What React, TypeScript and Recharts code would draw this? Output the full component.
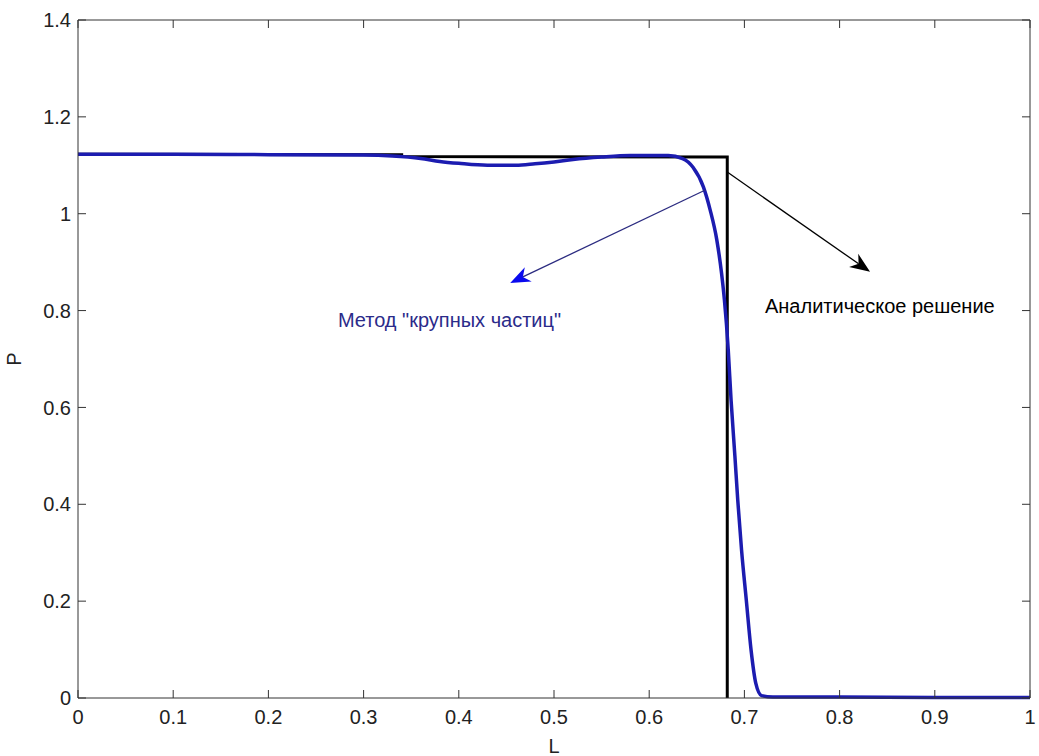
import React from 'react';
import { LineChart, Line, XAxis, YAxis, ReferenceLine, ReferenceDot } from 'recharts';

// particle method (blue) vs analytic solution (black)
const particleL = [0, 0.1, 0.2, 0.3, 0.33, 0.36, 0.38, 0.4, 0.43, 0.46, 0.48, 0.5, 0.52, 0.55, 0.58, 0.62, 0.635, 0.646, 0.657, 0.664, 0.671, 0.676, 0.679, 0.683, 0.686, 0.69, 0.693, 0.697, 0.702, 0.707, 0.712, 0.718, 0.73, 0.8, 0.9, 1.0];
const particleP = [1.123, 1.123, 1.122, 1.121, 1.119, 1.114, 1.108, 1.104, 1.1, 1.1, 1.103, 1.107, 1.112, 1.117, 1.12, 1.12, 1.114, 1.096, 1.055, 1.008, 0.946, 0.877, 0.822, 0.72, 0.615, 0.5, 0.409, 0.306, 0.202, 0.099, 0.03, 0.005, 0.002, 0.002, 0.001, 0.001];

const analyticL = [0, 0.34, 0.34, 0.682, 0.682];
const analyticP = [1.123, 1.122, 1.118, 1.117, 0];

const xTicks = [0, 0.1, 0.2, 0.3, 0.4, 0.5, 0.6, 0.7, 0.8, 0.9, 1];
const yTicks = [0, 0.2, 0.4, 0.6, 0.8, 1, 1.2, 1.4];

// annotation anchors in data units: [L, P]
const particleArrow = [[0.659, 1.049], [0.454, 0.857]];
const analyticArrow = [[0.682, 1.086], [0.832, 0.88]];
const particleText = { L: 0.273, P: 0.766, text: 'Метод "крупных частиц"' };
const analyticText = { L: 0.7216, P: 0.795, text: 'Аналитическое решение' };

const particleData = particleL.map((L, i) => ({ L, P: particleP[i] }));
const analyticData = analyticL.map((L, i) => ({ L, P: analyticP[i] }));

const FONT = '"Liberation Sans", Arial, sans-serif';
const fmt = (v: number) => String(Number(v.toFixed(1)));
const noLabel = () => <g />;

const makeArrow = (lineColor: string, headColor: string) => (props: any) => {
  const { x1, y1, x2, y2 } = props;
  const ang = Math.atan2(y2 - y1, x2 - x1);
  const len = 20;
  const half = 8;
  const bx = x2 - len * Math.cos(ang);
  const by = y2 - len * Math.sin(ang);
  const nx = x2 - len * 0.7 * Math.cos(ang);
  const ny = y2 - len * 0.7 * Math.sin(ang);
  const px = -Math.sin(ang) * half;
  const py = Math.cos(ang) * half;
  return (
    <g>
      <line x1={x1} y1={y1} x2={nx} y2={ny} stroke={lineColor} strokeWidth={1.3} />
      <polygon
        points={`${x2},${y2} ${bx + px},${by + py} ${nx},${ny} ${bx - px},${by - py}`}
        fill={headColor}
      />
    </g>
  );
};

const makeText = (text: string, color: string) => (props: any) => (
  <text x={props.cx} y={props.cy} fill={color} fontSize={20} fontFamily={FONT}>
    {text}
  </text>
);

const axisColor = '#333';
const tickStyle = { fill: '#222', fontSize: 20, fontFamily: FONT };

export default function App() {
  return (
    <div style={{ position: 'absolute', left: 0, top: 0, width: 1039, height: 756, background: '#fff' }}>
      <LineChart width={1039} height={756} margin={{ top: 19, right: 8, left: 0, bottom: 0 }}>
        <XAxis
          dataKey="L"
          type="number"
          domain={[0, 1]}
          ticks={xTicks}
          tickFormatter={fmt}
          height={58}
          tickSize={-8}
          tickMargin={20}
          stroke={axisColor}
          tick={tickStyle}
          interval={0}
          label={{
            content: (p: any) => (
              <text x={p.viewBox.x + p.viewBox.width / 2} y={p.viewBox.y + 55} textAnchor="middle" fill="#222" fontSize={20} fontFamily={FONT}>
                L
              </text>
            ),
          }}
        />
        {/* mirror axes on top/right for the matlab-style box ticks */}
        <XAxis xAxisId="top" dataKey="L" orientation="top" type="number" domain={[0, 1]} ticks={xTicks} height={1} tickSize={-8} tick={noLabel} interval={0} stroke={axisColor} />
        <YAxis
          type="number"
          domain={[0, 1.4]}
          ticks={yTicks}
          tickFormatter={fmt}
          width={78}
          tickSize={-8}
          tickMargin={15}
          stroke={axisColor}
          tick={tickStyle}
          interval={0}
          label={{
            content: (p: any) => {
              const cx = p.viewBox.x + 16;
              const cy = p.viewBox.y + p.viewBox.height / 2;
              return (
                <text x={cx} y={cy} transform={`rotate(-90 ${cx} ${cy})`} textAnchor="middle" dominantBaseline="middle" fill="#222" fontSize={20} fontFamily={FONT}>
                  P
                </text>
              );
            },
          }}
        />
        <YAxis yAxisId="right" orientation="right" type="number" domain={[0, 1.4]} ticks={yTicks} width={1} tickSize={-8} tick={noLabel} interval={0} stroke={axisColor} />

        <Line data={analyticData} dataKey="P" type="linear" stroke="#000" strokeWidth={3} dot={false} isAnimationActive={false} />
        <Line data={particleData} xAxisId="top" yAxisId="right" dataKey="P" type="monotone" stroke="#1c1cb0" strokeWidth={3.5} dot={false} isAnimationActive={false} />

        <ReferenceLine
          segment={[{ x: particleArrow[0][0], y: particleArrow[0][1] }, { x: particleArrow[1][0], y: particleArrow[1][1] }]}
          shape={makeArrow('#2b2b80', '#0a0aee')}
        />
        <ReferenceLine
          segment={[{ x: analyticArrow[0][0], y: analyticArrow[0][1] }, { x: analyticArrow[1][0], y: analyticArrow[1][1] }]}
          shape={makeArrow('#000', '#000')}
        />
        <ReferenceDot x={particleText.L} y={particleText.P} r={0} shape={makeText(particleText.text, '#2b2b8a')} />
        <ReferenceDot x={analyticText.L} y={analyticText.P} r={0} shape={makeText(analyticText.text, '#000')} />
      </LineChart>
    </div>
  );
}
